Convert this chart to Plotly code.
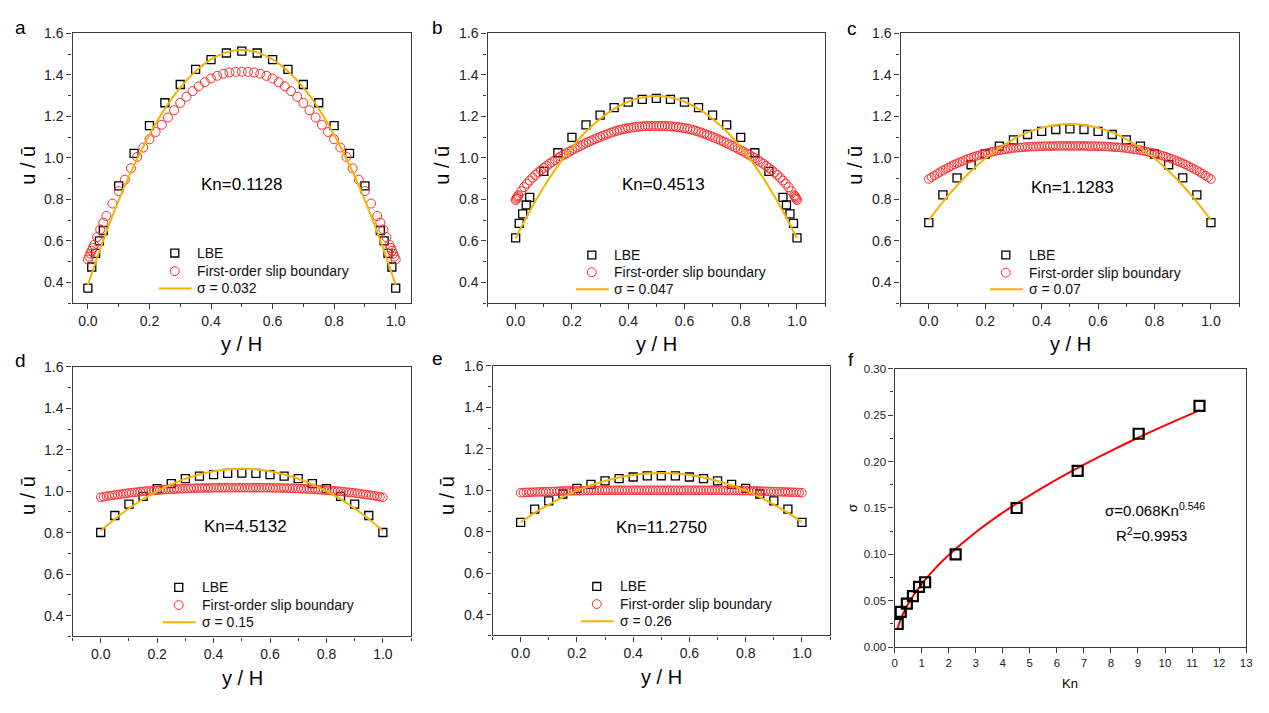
import plotly.graph_objects as go

W, H = 1269, 713
FONT = "Liberation Sans, Arial, sans-serif"

# ---------------- data ----------------
# LBE sample positions (panels a, b have refined near-wall points)
lbe_x_ab = [0, 0.0125, 0.025, 0.0375, 0.05, 0.1, 0.15, 0.2, 0.25, 0.3, 0.35, 0.4, 0.45, 0.5,
            0.55, 0.6, 0.65, 0.7, 0.75, 0.8, 0.85, 0.9, 0.95, 0.9625, 0.975, 0.9875, 1.0]
lbe_x_cde = [0, 0.05, 0.1, 0.15, 0.2, 0.25, 0.3, 0.35, 0.4, 0.45, 0.5,
             0.55, 0.6, 0.65, 0.7, 0.75, 0.8, 0.85, 0.9, 0.95, 1.0]

lbe_a = [0.372, 0.474, 0.54, 0.60, 0.65, 0.865, 1.022, 1.156, 1.266, 1.354, 1.427, 1.474, 1.506, 1.515,
         1.506, 1.474, 1.427, 1.354, 1.266, 1.156, 1.022, 0.865, 0.65, 0.60, 0.54, 0.474, 0.372]
lbe_b = [0.614, 0.684, 0.73, 0.773, 0.81, 0.935, 1.025, 1.099, 1.159, 1.206, 1.243, 1.269, 1.282, 1.287,
         1.282, 1.269, 1.243, 1.206, 1.159, 1.099, 1.025, 0.935, 0.81, 0.773, 0.73, 0.684, 0.614]
lbe_c = [0.688, 0.822, 0.904, 0.967, 1.019, 1.057, 1.087, 1.113, 1.128, 1.137, 1.140,
         1.137, 1.128, 1.113, 1.087, 1.057, 1.019, 0.967, 0.904, 0.822, 0.688]
lbe_d = [0.801, 0.883, 0.938, 0.975, 1.013, 1.037, 1.061, 1.073, 1.080, 1.086, 1.087,
         1.086, 1.080, 1.073, 1.061, 1.037, 1.013, 0.975, 0.938, 0.883, 0.801]
lbe_e = [0.845, 0.909, 0.949, 0.982, 1.009, 1.028, 1.045, 1.056, 1.064, 1.069, 1.070,
         1.069, 1.064, 1.056, 1.045, 1.028, 1.009, 0.982, 0.949, 0.909, 0.845]

# sigma-fit curves (yellow)
fit_x = [0, 0.05, 0.1, 0.15, 0.2, 0.25, 0.3, 0.35, 0.4, 0.45, 0.5,
         0.55, 0.6, 0.65, 0.7, 0.75, 0.8, 0.85, 0.9, 0.95, 1.0]
fit_a = [0.387, 0.602, 0.795, 0.965, 1.112, 1.237, 1.339, 1.418, 1.475, 1.509, 1.52,
         1.509, 1.475, 1.418, 1.339, 1.237, 1.112, 0.965, 0.795, 0.602, 0.387]
fit_b = [0.613, 0.743, 0.860, 0.963, 1.051, 1.127, 1.188, 1.236, 1.271, 1.291, 1.298,
         1.291, 1.271, 1.236, 1.188, 1.127, 1.051, 0.963, 0.860, 0.743, 0.613]
fit_c = [0.700, 0.788, 0.867, 0.937, 0.997, 1.048, 1.090, 1.123, 1.145, 1.159, 1.164,
         1.159, 1.145, 1.123, 1.090, 1.048, 0.997, 0.937, 0.867, 0.788, 0.700]
fit_d = [0.809, 0.866, 0.917, 0.962, 1.000, 1.033, 1.060, 1.081, 1.096, 1.105, 1.108,
         1.105, 1.096, 1.081, 1.060, 1.033, 1.000, 0.962, 0.917, 0.866, 0.809]
fit_e = [0.846, 0.891, 0.931, 0.967, 0.998, 1.024, 1.045, 1.062, 1.074, 1.081, 1.083,
         1.081, 1.074, 1.062, 1.045, 1.024, 0.998, 0.967, 0.931, 0.891, 0.846]
sigma_labels = ["σ = 0.032", "σ = 0.047", "σ = 0.07", "σ = 0.15", "σ = 0.26"]
kn_labels = ["Kn=0.1128", "Kn=0.4513", "Kn=1.1283", "Kn=4.5132", "Kn=11.2750"]
legend_labels = ["LBE", "First-order slip boundary"]

# First-order slip boundary (red circles)
slip_x_a = [0, 0.004, 0.008, 0.012, 0.016, 0.02, 0.03, 0.04, 0.05, 0.06,
            0.08, 0.10, 0.12, 0.14, 0.16, 0.18, 0.20, 0.22, 0.24, 0.26, 0.28, 0.30,
            0.32, 0.34, 0.36, 0.38, 0.40, 0.42, 0.44, 0.46, 0.48, 0.50,
            0.52, 0.54, 0.56, 0.58, 0.60, 0.62, 0.64, 0.66, 0.68, 0.70,
            0.72, 0.74, 0.76, 0.78, 0.80, 0.82, 0.84, 0.86, 0.88, 0.90, 0.92,
            0.94, 0.95, 0.96, 0.97, 0.98, 0.984, 0.988, 0.992, 0.996, 1.0]
slip_a = [0.51, 0.524, 0.538, 0.552, 0.566, 0.58, 0.618, 0.655, 0.688, 0.72,
          0.78, 0.84, 0.895, 0.95, 1.005, 1.05, 1.09, 1.125, 1.16, 1.195, 1.23, 1.265,
          1.295, 1.322, 1.345, 1.365, 1.383, 1.396, 1.406, 1.412, 1.415, 1.416,
          1.415, 1.412, 1.406, 1.396, 1.383, 1.365, 1.345, 1.322, 1.295, 1.265,
          1.23, 1.195, 1.16, 1.125, 1.09, 1.05, 1.005, 0.95, 0.895, 0.84, 0.78,
          0.72, 0.688, 0.655, 0.618, 0.58, 0.566, 0.552, 0.538, 0.524, 0.51]

grid_inner = [round(i / 100, 2) for i in range(1, 100)]
slip_x_b = [0, 0.0025, 0.005, 0.0075] + grid_inner + [0.9925, 0.995, 0.9975, 1.0]
slip_b = [0.797, 0.803, 0.809, 0.815,
          0.820, 0.840, 0.859, 0.876, 0.891, 0.905, 0.918, 0.930, 0.941, 0.952,
          0.962, 0.972, 0.981, 0.990, 0.999, 1.007, 1.015, 1.022, 1.030, 1.037,
          1.044, 1.051, 1.058, 1.065, 1.072, 1.078, 1.084, 1.090, 1.096, 1.101,
          1.107, 1.112, 1.117, 1.122, 1.127, 1.131, 1.135, 1.138, 1.141, 1.144,
          1.146, 1.148, 1.150, 1.151, 1.152, 1.153, 1.154, 1.154, 1.154, 1.154,
          1.154, 1.154, 1.154, 1.153, 1.152, 1.151, 1.150, 1.148, 1.146, 1.144,
          1.141, 1.138, 1.135, 1.131, 1.127, 1.122, 1.117, 1.112, 1.107, 1.101,
          1.096, 1.090, 1.084, 1.078, 1.072, 1.065, 1.058, 1.051, 1.044, 1.037,
          1.030, 1.022, 1.015, 1.007, 0.999, 0.990, 0.981, 0.972, 0.962, 0.952,
          0.941, 0.930, 0.918, 0.905, 0.891, 0.876, 0.859, 0.840, 0.820,
          0.815, 0.809, 0.803, 0.797]

slip_x_fine = [round(i / 100, 2) for i in range(0, 101)]
slip_c = [0.898, 0.907, 0.915, 0.924, 0.932, 0.940, 0.947, 0.954, 0.961, 0.968,
          0.974, 0.980, 0.985, 0.991, 0.996, 1.001, 1.006, 1.010, 1.014, 1.018,
          1.022, 1.025, 1.028, 1.031, 1.034, 1.037, 1.039, 1.041, 1.043, 1.045,
          1.047, 1.049, 1.050, 1.051, 1.052, 1.053, 1.054, 1.055, 1.055, 1.056,
          1.056, 1.057, 1.057, 1.057, 1.057, 1.058, 1.058, 1.058, 1.058, 1.058,
          1.058,
          1.058, 1.058, 1.058, 1.058, 1.058, 1.057, 1.057, 1.057, 1.057, 1.056,
          1.056, 1.055, 1.055, 1.054, 1.053, 1.052, 1.051, 1.050, 1.049, 1.047,
          1.045, 1.043, 1.041, 1.039, 1.037, 1.034, 1.031, 1.028, 1.025, 1.022,
          1.018, 1.014, 1.010, 1.006, 1.001, 0.996, 0.991, 0.985, 0.980, 0.974,
          0.968, 0.961, 0.954, 0.947, 0.940, 0.932, 0.924, 0.915, 0.907, 0.898]
slip_d = [0.971, 0.973, 0.976, 0.978, 0.980, 0.982, 0.984, 0.986, 0.988, 0.990,
          0.992, 0.993, 0.995, 0.996, 0.998, 0.999, 1.001, 1.002, 1.003, 1.004,
          1.005, 1.006, 1.007, 1.008, 1.009, 1.010, 1.010, 1.011, 1.012, 1.012,
          1.013, 1.013, 1.014, 1.014, 1.015, 1.015, 1.016, 1.016, 1.016, 1.016,
          1.017, 1.017, 1.017, 1.017, 1.017, 1.017, 1.017, 1.017, 1.017, 1.017,
          1.017, 1.017, 1.017, 1.017, 1.017, 1.017, 1.017, 1.017, 1.017, 1.017,
          1.017, 1.016, 1.016, 1.016, 1.016, 1.015, 1.015, 1.014, 1.014, 1.013,
          1.013, 1.012, 1.012, 1.011, 1.010, 1.010, 1.009, 1.008, 1.007, 1.006,
          1.005, 1.004, 1.003, 1.002, 1.001, 0.999, 0.998, 0.996, 0.995, 0.993,
          0.992, 0.990, 0.988, 0.986, 0.984, 0.982, 0.980, 0.978, 0.976, 0.973,
          0.971]
slip_e = [0.988, 0.989, 0.990, 0.990, 0.991, 0.991, 0.992, 0.992, 0.993, 0.993,
          0.994, 0.994, 0.995, 0.995, 0.996, 0.996, 0.997, 0.997, 0.997, 0.998,
          0.998, 0.998, 0.998, 0.999, 0.999, 0.999, 0.999, 0.999, 1.000, 1.000,
          1.000, 1.000, 1.000, 1.000, 1.000, 1.000, 1.000, 1.000, 1.000, 1.000,
          1.000, 1.000, 1.000, 1.000, 1.000, 1.000, 1.000, 1.000, 1.000, 1.000,
          1.000, 1.000, 1.000, 1.000, 1.000, 1.000, 1.000, 1.000, 1.000, 1.000,
          1.000, 1.000, 1.000, 1.000, 1.000, 1.000, 1.000, 1.000, 1.000, 1.000,
          1.000, 1.000, 1.000, 0.999, 0.999, 0.999, 0.999, 0.999, 0.998, 0.998,
          0.998, 0.998, 0.997, 0.997, 0.997, 0.996, 0.996, 0.995, 0.995, 0.994,
          0.994, 0.993, 0.993, 0.992, 0.992, 0.991, 0.991, 0.990, 0.990, 0.989,
          0.988]

# panel f: sigma vs Kn
kn_pts = [0.1128, 0.2256, 0.4513, 0.6769, 0.9025, 1.1283, 2.2566, 4.5132, 6.7698, 9.0264, 11.275]
sigma_pts = [0.025, 0.038, 0.047, 0.055, 0.065, 0.070, 0.100, 0.150, 0.190, 0.230, 0.260]
kn_fit = [0.1, 0.15, 0.2, 0.3, 0.4, 0.5, 0.7, 1.0, 1.5, 2, 3, 4, 5, 6, 7, 8, 9, 10, 11.3]
sigma_fit = [0.0193, 0.0241, 0.0282, 0.0352, 0.0412, 0.0466, 0.0560, 0.0680, 0.0849, 0.0993,
             0.1239, 0.1450, 0.1637, 0.1809, 0.1968, 0.2116, 0.2257, 0.2391, 0.2555]

# ---------------- figure ----------------
YEL = "#F5B400"
RED = "#FF2A2A"
AX = "#3a3a3a"

panels = [
    dict(lx=lbe_x_ab, l=lbe_a, sx=slip_x_a, s=slip_a, f=fit_a, ms=9),
    dict(lx=lbe_x_ab, l=lbe_b, sx=slip_x_b, s=slip_b, f=fit_b, ms=9),
    dict(lx=lbe_x_cde, l=lbe_c, sx=slip_x_fine, s=slip_c, f=fit_c, ms=8.5),
    dict(lx=lbe_x_cde, l=lbe_d, sx=slip_x_fine, s=slip_d, f=fit_d, ms=8.5),
    dict(lx=lbe_x_cde, l=lbe_e, sx=slip_x_fine, s=slip_e, f=fit_e, ms=8.5),
]

fig = go.Figure()
for i, p in enumerate(panels):
    n = i + 1
    xa = "x" if n == 1 else f"x{n}"
    ya = "y" if n == 1 else f"y{n}"
    fig.add_trace(go.Scatter(x=p["lx"], y=p["l"], mode="markers", name="LBE", showlegend=False,
                             marker=dict(symbol="square-open", size=8, color="black",
                                         line=dict(width=1.3, color="black")),
                             xaxis=xa, yaxis=ya))
    fig.add_trace(go.Scatter(x=p["sx"], y=p["s"], mode="markers", showlegend=False,
                             name="First-order slip boundary",
                             marker=dict(symbol="circle-open", size=p["ms"], color=RED,
                                         line=dict(width=1, color=RED)),
                             xaxis=xa, yaxis=ya))
    fig.add_trace(go.Scatter(x=fit_x, y=p["f"], mode="lines", name=sigma_labels[i], showlegend=False,
                             line=dict(color=YEL, width=2, shape="spline"),
                             xaxis=xa, yaxis=ya))

fig.add_trace(go.Scatter(x=kn_fit, y=sigma_fit, mode="lines", showlegend=False,
                         line=dict(color="#FF0000", width=2, shape="spline"),
                         xaxis="x6", yaxis="y6"))
fig.add_trace(go.Scatter(x=kn_pts, y=sigma_pts, mode="markers", showlegend=False,
                         marker=dict(symbol="square-open", size=10, color="black",
                                     line=dict(width=2.2, color="black")),
                         xaxis="x6", yaxis="y6"))


def fx(px):
    return px / W


def fy(py):
    return 1 - py / H


# plot-area pixel boxes (left, right, top, bottom)
boxes = [
    (70, 411, 26, 301),
    (488, 828, 26, 301),
    (904, 1245, 26, 301),
    (70, 411, 366, 641),
    (493, 833, 365, 640),
    (898, 1252, 368, 652),
]
xranges = [[-0.05, 1.05], [-0.1, 1.1], [-0.1, 1.1], [-0.1, 1.1], [-0.1, 1.1]]

common = dict(showgrid=False, zeroline=False, showline=True, mirror=True,
              linecolor=AX, linewidth=1.4, ticks="outside", ticklen=5, tickwidth=1.2,
              tickcolor=AX, tickfont=dict(family=FONT, size=14, color="#222"))

layout = dict(width=W, height=H, margin=dict(l=0, r=0, t=0, b=0), showlegend=False,
              paper_bgcolor="white", plot_bgcolor="white", font=dict(family=FONT))

for i, (l, r, t, b) in enumerate(boxes):
    n = i + 1
    xk = "xaxis" if n == 1 else f"xaxis{n}"
    yk = "yaxis" if n == 1 else f"yaxis{n}"
    xid = "x" if n == 1 else f"x{n}"
    yid = "y" if n == 1 else f"y{n}"
    if n <= 5:
        layout[xk] = dict(common, domain=[fx(l), fx(r)], range=xranges[i], anchor=yid,
                          dtick=0.2, tick0=0, tickformat=".1f",
                          minor=dict(dtick=0.1, ticks="outside", ticklen=3, tickcolor=AX))
        layout[yk] = dict(common, domain=[fy(b), fy(t)], range=[0.3, 1.6], anchor=xid,
                          dtick=0.2, tick0=0, tickformat=".1f",
                          minor=dict(dtick=0.1, ticks="outside", ticklen=3, tickcolor=AX))
    else:
        c6 = dict(common, tickfont=dict(family=FONT, size=11.5, color="#222"))
        layout[xk] = dict(c6, domain=[fx(l), fx(r)], range=[0, 13], anchor=yid, dtick=1, tick0=0)
        layout[yk] = dict(c6, domain=[fy(b), fy(t)], range=[0, 0.30], anchor=xid,
                          dtick=0.05, tick0=0, tickformat=".2f",
                          minor=dict(dtick=0.025, ticks="outside", ticklen=3, tickcolor=AX))

ann = []
shapes = []


def text(t, x, y, size, angle=0, color="black"):
    ann.append(dict(text=t, x=fx(x), y=fy(y), xref="paper", yref="paper",
                    xanchor="center", yanchor="middle", textangle=angle, showarrow=False,
                    font=dict(family=FONT, size=size, color=color)))


# hand-drawn per-panel legends: (symbol centre x, text start x, row y's)
legend_geo = [
    (173, 193, (250, 268.5, 286)),
    (593, 613, (252, 269.5, 287)),
    (1010, 1031, (252, 270, 287)),
    (177, 198, (591, 609, 626.5)),
    (598, 619, (590, 608, 625.5)),
]
for i, (mx, tx, rows) in enumerate(legend_geo):
    r1, r2, r3 = rows
    shapes.append(dict(type="rect", xref="paper", yref="paper",
                       x0=fx(mx - 4), x1=fx(mx + 4), y0=fy(r1 + 4), y1=fy(r1 - 4),
                       line=dict(color="black", width=1.3)))
    shapes.append(dict(type="circle", xref="paper", yref="paper",
                       x0=fx(mx - 4.5), x1=fx(mx + 4.5), y0=fy(r2 + 4.5), y1=fy(r2 - 4.5),
                       line=dict(color=RED, width=1)))
    shapes.append(dict(type="line", xref="paper", yref="paper",
                       x0=fx(mx - 16), x1=fx(mx + 17), y0=fy(r3), y1=fy(r3),
                       line=dict(color=YEL, width=2)))
    for t, ry in zip(legend_labels + [sigma_labels[i]], rows):
        ann.append(dict(text=t, x=fx(tx), y=fy(ry), xref="paper", yref="paper",
                        xanchor="left", yanchor="middle", showarrow=False,
                        font=dict(family=FONT, size=14, color="#111")))

# panel letters
for t, x, y in [("a", 18, 20), ("b", 438, 20), ("c", 855, 21),
                ("d", 18, 360), ("e", 438, 358), ("f", 854, 359)]:
    text(t, x, y, 19)
# Kn labels
for t, x, y in zip(kn_labels, [240, 665, 1077, 244, 663], [180, 180, 183, 529, 530]):
    text(t, x, y, 17)
# x-axis titles
for x, y in [(240, 343), (658, 343), (1075, 343), (241, 683), (663, 682)]:
    text("y / H", x, y, 20)
# y-axis titles
for x, y in [(25, 160), (442, 160), (858, 160), (25, 497), (447, 497)]:
    text("u / ū", x, y, 20, angle=-90)
# panel f texts
text("Kn", 1075, 689, 13)
text("σ", 856, 510, 13, angle=-90)
text("σ=0.068Kn<sup>0.546</sup>", 1160, 512, 15)
text("R<sup>2</sup>=0.9953", 1157, 537, 15)

layout["annotations"] = ann
layout["shapes"] = shapes

fig.update_layout(**layout)
fig.write_html("out.html")
